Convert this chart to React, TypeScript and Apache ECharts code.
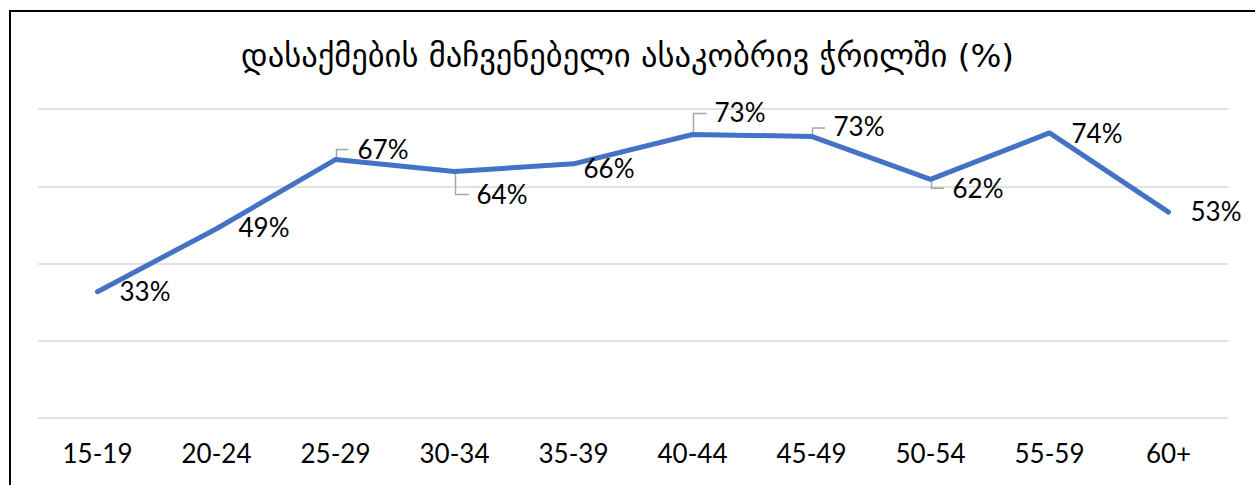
import React, { useEffect, useRef } from "react";
import * as echarts from "echarts";

const titleText = "დასაქმების მაჩვენებელი ასაკობრივ ჭრილში (%)";
const categories = ["15-19", "20-24", "25-29", "30-34", "35-39", "40-44", "45-49", "50-54", "55-59", "60+"];
const employmentRate = [32.7, 49.0, 66.9, 63.8, 65.8, 73.4, 72.9, 61.8, 73.8, 53.3];
const yMin = 0;
const yMax = 80;
const yInterval = 20;

// label layout (style): [dx, dy] offsets from the 'right' label position
const labelOffsets: number[][] = [
  [0, -1], [0, -2], [0, -11], [0, 22], [-12, 4], [0, -22], [0, -10], [0, 9], [0, 0], [0, -1],
];
// leader lines (style): null or [elbow dy, end dx] relative to the point
const leaders: (number[] | null)[] = [
  null, null, [-10, 13], [23, 14.5], null, [-21, 14], [-8.5, 13.5], [9, 13.5], null, null,
];

export default function App() {
  const ref = useRef<HTMLDivElement>(null);
  useEffect(() => {
    if (!ref.current) return;
    const chart = echarts.init(ref.current, undefined, { renderer: "svg" });
    const labelFont = { fontFamily: "Lato", fontSize: 26, color: "#000" };
    chart.setOption({
      animation: false,
      backgroundColor: "#fff",
      title: {
        text: titleText,
        left: "center",
        top: 34,
        textStyle: { fontFamily: "DejaVu Sans", fontSize: 32.5, fontWeight: "normal", color: "#000" },
      },
      graphic: [
        {
          type: "rect",
          shape: { x: 10, y: 11, width: 1300, height: 520 },
          style: { fill: "none", stroke: "#000", lineWidth: 2 },
          silent: true,
        },
      ],
      grid: { left: 38, right: 27, top: 109, bottom: 67 },
      xAxis: {
        type: "category",
        data: categories,
        boundaryGap: true,
        axisLine: { show: false },
        axisTick: { show: false },
        axisLabel: { ...labelFont, margin: 22 },
      },
      yAxis: {
        type: "value",
        min: yMin,
        max: yMax,
        interval: yInterval,
        axisLabel: { show: false },
        axisLine: { show: false },
        axisTick: { show: false },
        splitLine: { lineStyle: { color: "#d9d9d9", width: 1.5 } },
      },
      series: [
        {
          type: "custom",
          z: 1,
          silent: true,
          data: employmentRate.map((v, i) => [i, v]),
          renderItem: (params: any, api: any) => {
            const ld = leaders[params.dataIndex];
            if (!ld) return null;
            const p = api.coord([api.value(0), api.value(1)]);
            return {
              type: "polyline",
              shape: {
                points: [
                  [p[0] + 1, p[1]],
                  [p[0] + 1, p[1] + ld[0]],
                  [p[0] + ld[1], p[1] + ld[0]],
                ],
              },
              style: { stroke: "#a6a6a6", lineWidth: 1.5, fill: "none" },
            };
          },
        },
        {
          type: "line",
          z: 3,
          data: employmentRate.map((v, i) => ({
            value: v,
            label: { offset: labelOffsets[i] },
          })),
          symbol: "circle",
          symbolSize: 4,
          showSymbol: true,
          itemStyle: { color: "#4472C4" },
          lineStyle: { color: "#4472C4", width: 5, cap: "round", join: "round" },
          label: {
            show: true,
            position: "right",
            distance: 20,
            ...labelFont,
            formatter: (p: any) => Math.round(p.value) + "%",
          },
        },
      ],
    });
    return () => chart.dispose();
  }, []);
  return (
    <div
      ref={ref}
      style={{ position: "absolute", left: 0, top: 0, width: 1255, height: 485 }}
    />
  );
}
